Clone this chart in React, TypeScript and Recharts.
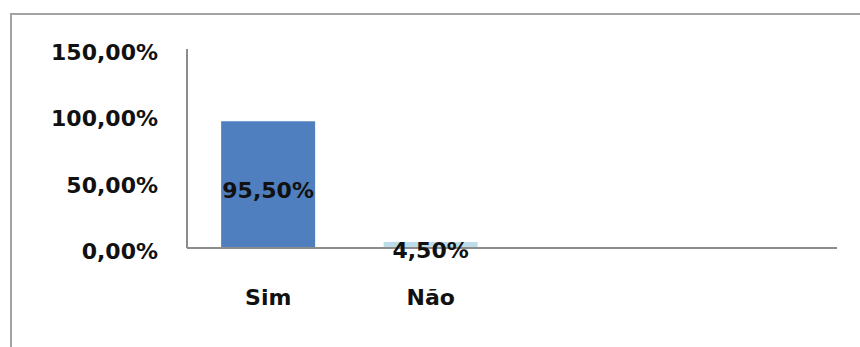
import { BarChart, Bar, XAxis, YAxis, Cell, LabelList } from "recharts";

const categories = ["Sim", "Não", "", ""];
const valores = [95.5, 4.5, null, null];
const yTicks = [0, 50, 100, 150];

const barColors = ["#4f7fbe", "#bcdde8"];

const data = categories.map((c, i) => ({ name: c, valor: valores[i] }));

const fmt = (v: number) => `${v.toFixed(2).replace(".", ",")}%`;

const FONT = "'DejaVu Sans', sans-serif";

const YTick = (props: any) => {
  const { x, y, payload } = props;
  return (
    <text
      x={x}
      y={y}
      dy={11}
      textAnchor="end"
      fontFamily={FONT}
      fontWeight={700}
      fontSize={22}
      fill="#111"
    >
      {fmt(payload.value)}
    </text>
  );
};

const XTick = (props: any) => {
  const { x, y, payload } = props;
  return (
    <text
      x={x}
      y={y}
      dy={8}
      textAnchor="middle"
      fontFamily={FONT}
      fontWeight={700}
      fontSize={22}
      fill="#111"
    >
      {payload.value}
    </text>
  );
};

const ValueLabel = (props: any) => {
  const { x, y, width, height, value } = props;
  if (value == null) return null;
  return (
    <text
      x={x + width / 2}
      y={y + height / 2}
      dy={13}
      textAnchor="middle"
      fontFamily={FONT}
      fontWeight={700}
      fontSize={22}
      fill="#111"
    >
      {fmt(Number(value))}
    </text>
  );
};

export default function App() {
  return (
    <div
      style={{
        position: "absolute",
        left: 0,
        top: 0,
        width: 860,
        height: 347,
        background: "#fff",
        overflow: "hidden",
      }}
    >
      {/* moldura do gráfico */}
      <div
        style={{
          position: "absolute",
          left: 10,
          top: 13,
          width: 860,
          height: 360,
          borderLeft: "2px solid #a3a3a3",
          borderTop: "2px solid #a3a3a3",
        }}
      />
      <BarChart
        width={860}
        height={347}
        data={data}
        margin={{ top: 49, right: 23, bottom: 0, left: 0 }}
        barCategoryGap="21%"
        style={{ position: "absolute", left: 0, top: 0 }}
      >
        <XAxis
          dataKey="name"
          height={99}
          tickSize={0}
          tickMargin={49}
          axisLine={{ stroke: "#8c8c8c", strokeWidth: 2 }}
          tickLine={false}
          tick={<XTick />}
          interval={0}
        />
        <YAxis
          width={187}
          domain={[0, 150]}
          ticks={yTicks}
          tickSize={0}
          tickMargin={29}
          axisLine={{ stroke: "#8c8c8c", strokeWidth: 2 }}
          tickLine={false}
          tick={<YTick />}
          interval={0}
        />
        <Bar dataKey="valor" isAnimationActive={false}>
          {data.map((d, i) => (
            <Cell key={i} fill={barColors[i % barColors.length]} />
          ))}
          <LabelList dataKey="valor" content={<ValueLabel />} />
        </Bar>
      </BarChart>
    </div>
  );
}
